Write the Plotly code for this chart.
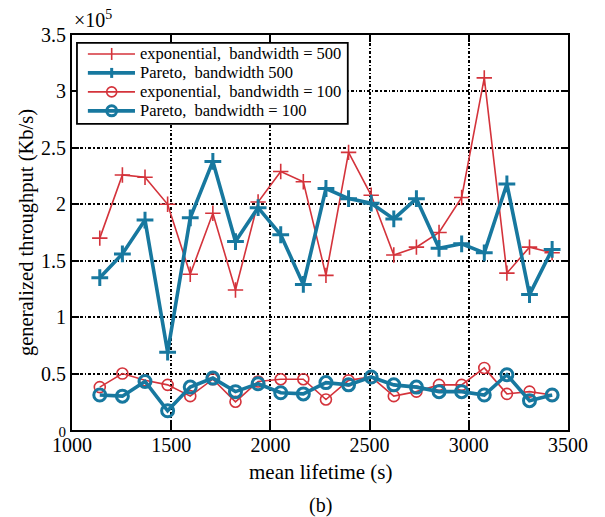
import plotly.graph_objects as go

lifetime = [1140 + 114 * i for i in range(21)]

exp_500 = [1.70, 2.26, 2.24, 2.00, 1.38, 1.92, 1.24, 2.02, 2.29, 2.20, 1.37, 2.46,
           2.08, 1.55, 1.62, 1.75, 2.06, 3.12, 1.39, 1.62, 1.57]
par_500 = [1.35, 1.56, 1.86, 0.69, 1.88, 2.38, 1.67, 1.97, 1.73, 1.29, 2.14, 2.05,
           2.01, 1.87, 2.05, 1.61, 1.65, 1.57, 2.18, 1.20, 1.60]
exp_100 = [0.38, 0.50, 0.44, 0.40, 0.30, 0.45, 0.25, 0.43, 0.45, 0.45, 0.27, 0.44,
           0.47, 0.30, 0.34, 0.40, 0.40, 0.55, 0.32, 0.34, 0.31]
par_100 = [0.31, 0.30, 0.43, 0.17, 0.38, 0.46, 0.34, 0.41, 0.33, 0.32, 0.42, 0.40,
           0.47, 0.40, 0.38, 0.34, 0.34, 0.31, 0.49, 0.26, 0.31]

NB = "\u00a0"
names = ["exponential," + NB * 2 + "bandwidth = 500", "Pareto," + NB * 2 + "bandwidth 500",
         "exponential," + NB * 2 + "bandwidth = 100", "Pareto," + NB * 2 + "bandwidth = 100"]

xticks = [1000, 1500, 2000, 2500, 3000, 3500]
yticks = [0, 0.5, 1, 1.5, 2, 2.5, 3, 3.5]
ytick_text = ['<span style="font-size:15px">0</span>', "0.5", "1", "1.5", "2", "2.5", "3", "3.5"]

RED = "#d4333b"
BLUE = "#17789f"
FONT = "Liberation Serif"

styles = [
    dict(color=RED, lw=1.6, sym="cross-thin", ms=11, mlw=1.6),
    dict(color=BLUE, lw=3.6, sym="cross-thin", ms=12, mlw=3),
    dict(color=RED, lw=1.6, sym="circle-open", ms=11, mlw=1.6),
    dict(color=BLUE, lw=3.6, sym="circle-open", ms=12, mlw=3),
]
series = [exp_500, par_500, exp_100, par_100]

fig = go.Figure()
for name, ys, st in zip(names, series, styles):
    fig.add_trace(go.Scatter(
        x=lifetime, y=ys, name=name, mode="lines+markers", showlegend=False,
        line=dict(color=st["color"], width=st["lw"]),
        marker=dict(symbol=st["sym"], size=st["ms"], color=st["color"],
                    line=dict(color=st["color"], width=st["mlw"]))))

axis_common = dict(showline=True, linecolor="black", linewidth=2, mirror="ticks",
                   ticks="inside", ticklen=7, tickcolor="black", tickwidth=1.5,
                   showgrid=True, gridcolor="black", gridwidth=1.6,
                   griddash="3px,2px,1.2px,2px",
                   zeroline=False, tickfont=dict(family=FONT, size=20, color="black"))

fig.update_xaxes(range=[1000, 3500], tickvals=xticks, ticklabelstandoff=-4, **axis_common)
fig.update_yaxes(range=[0, 3.5], tickvals=yticks, ticktext=ytick_text,
                 title=dict(text="generalized throughput (Kb/s)",
                            font=dict(family=FONT, size=20.5, color="black"), standoff=2),
                 **axis_common)

# custom legend (paper coordinates of the plot area)
shapes = [dict(type="rect", xref="paper", yref="paper", x0=0.010, x1=0.556, y0=0.775, y1=0.980,
               line=dict(color="black", width=1.8), fillcolor="white", layer="above")]
annotations = []
row_y = [0.952, 0.904, 0.856, 0.808]
lx0, lx1, mx, tx = 0.032, 0.127, 0.080, 0.133
for name, st, ry in zip(names, styles, row_y):
    shapes.append(dict(type="line", xref="paper", yref="paper", x0=lx0, x1=lx1, y0=ry, y1=ry,
                       line=dict(color=st["color"], width=st["lw"]), layer="above"))
    if st["sym"] == "cross-thin":
        half = 6 if st["lw"] < 2 else 5
        shapes.append(dict(type="line", xref="paper", yref="paper", ysizemode="pixel",
                           yanchor=ry, y0=-half, y1=half, x0=mx, x1=mx,
                           line=dict(color=st["color"], width=st["mlw"]), layer="above"))
    else:
        r = 5
        shapes.append(dict(type="circle", xref="paper", yref="paper",
                           xsizemode="pixel", ysizemode="pixel", xanchor=mx, yanchor=ry,
                           x0=-r, x1=r, y0=-r, y1=r,
                           line=dict(color=st["color"], width=st["mlw"]), layer="above"))
    annotations.append(dict(text=name, x=tx, y=ry, xref="paper", yref="paper",
                            xanchor="left", yanchor="middle", showarrow=False,
                            font=dict(family=FONT, size=16.5, color="black")))

annotations += [
    dict(text="×10<sup>5</sup>", x=0.0, y=1.0, xref="paper", yref="paper",
         xanchor="left", yanchor="bottom", showarrow=False, yshift=2,
         font=dict(family=FONT, size=20, color="black")),
    dict(text="mean lifetime (s)", x=0.5, y=-0.106, xref="paper", yref="paper",
         xanchor="center", yanchor="middle", showarrow=False,
         font=dict(family=FONT, size=21, color="black")),
    dict(text="(b)", x=0.5, y=-0.19, xref="paper", yref="paper",
         xanchor="center", yanchor="middle", showarrow=False,
         font=dict(family=FONT, size=20, color="black")),
]

fig.update_layout(
    width=605, height=517,
    margin=dict(l=72, r=37, t=35, b=87),
    plot_bgcolor="white", paper_bgcolor="white",
    font=dict(family=FONT, color="black"),
    showlegend=False,
    shapes=shapes,
    annotations=annotations,
)

fig.write_html("out.html")
